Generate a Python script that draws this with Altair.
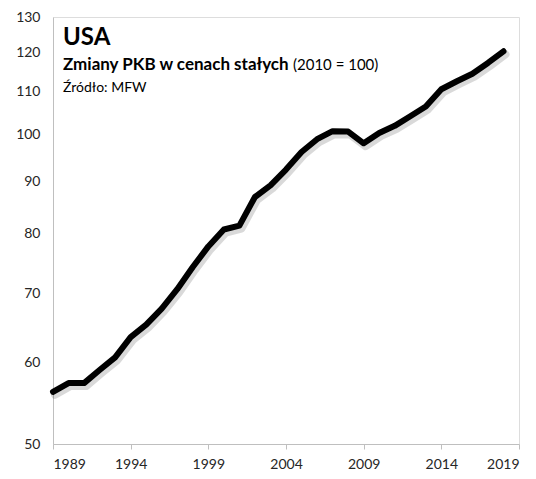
import altair as alt
import pandas as pd

years = list(range(1989, 2019))
gdp_index = [56.2, 57.3, 57.3, 59.0, 60.7, 63.5, 65.3, 67.7, 70.7, 74.3,
             77.8, 80.8, 81.5, 86.9, 89.2, 92.4, 96.1, 98.9, 100.7, 100.6,
             98.0, 100.3, 101.9, 104.1, 106.4, 110.6, 112.6, 114.5, 117.3, 120.4]
x_ticks = [1989, 1994, 1999, 2004, 2009, 2014, 2019]
y_ticks = [50, 60, 70, 80, 90, 100, 110, 120, 130]

title_main = "USA"
subtitle_bold = "Zmiany PKB w cenach stałych"
subtitle_norm = "(2010 = 100)"
source_txt = "Źródło: MFW"

df = pd.DataFrame({"rok": years, "pkb": gdp_index})

FONT = "Lato"

x_enc = alt.X("rok:Q", scale=alt.Scale(domain=[1989, 2019], nice=False, zero=False),
              axis=alt.Axis(values=x_ticks, format="d", title=None, grid=False,
                            domainColor="#bfbfbf", tickColor="#bfbfbf", tickSize=5,
                            labelFont=FONT, labelFontSize=14, labelColor="#262626",
                            labelPadding=8, domainWidth=1))
y_enc = alt.Y("pkb:Q", scale=alt.Scale(type="log", domain=[50, 130], nice=False, zero=False),
              axis=alt.Axis(values=y_ticks, format="d", title=None, grid=False,
                            domainColor="#bfbfbf", ticks=False,
                            labelFont=FONT, labelFontSize=14, labelColor="#262626",
                            labelPadding=13, domainWidth=1))

base = alt.Chart(df)

shadow = base.mark_line(color="#000000", opacity=0.15, strokeWidth=8,
                        xOffset=2, yOffset=3, strokeJoin="round", strokeCap="round").encode(x=x_enc, y=y_enc)
line = base.mark_line(color="#000000", strokeWidth=6, strokeJoin="round",
                      strokeCap="round").encode(x=x_enc, y=y_enc)

txt = pd.DataFrame({"t": [0]})
t1 = alt.Chart(txt).mark_text(text=title_main, font=FONT, fontSize=24, fontWeight="bold",
                              align="left", baseline="alphabetic", color="#000000").encode(
    x=alt.value(10), y=alt.value(28))
t2 = alt.Chart(txt).mark_text(text=subtitle_bold, font=FONT, fontSize=17, fontWeight="bold",
                              align="left", baseline="alphabetic", color="#000000").encode(
    x=alt.value(10), y=alt.value(53))
t3 = alt.Chart(txt).mark_text(text=subtitle_norm, font=FONT, fontSize=15, fontWeight="normal",
                              align="left", baseline="alphabetic", color="#000000").encode(
    x=alt.value(240), y=alt.value(53))
t4 = alt.Chart(txt).mark_text(text=source_txt, font=FONT, fontSize=14, fontWeight="normal",
                              align="left", baseline="alphabetic", color="#000000").encode(
    x=alt.value(10), y=alt.value(75))

chart = alt.layer(shadow, line, t1, t2, t3, t4).properties(
    width=466, height=427,
    autosize=alt.AutoSizeParams(type="none"),
    padding={"left": 45, "top": 9, "right": 9, "bottom": 27},
).configure_view(stroke=None).configure(background="#ffffff")

chart.save("out.html", embed_options={"renderer": "svg", "actions": False})
